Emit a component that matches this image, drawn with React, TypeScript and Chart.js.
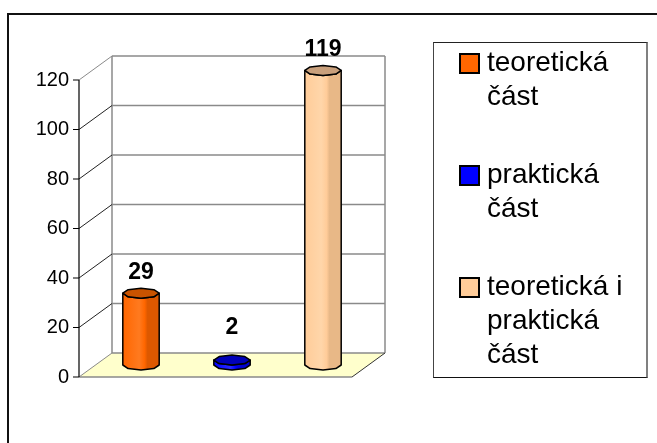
import React, { useEffect, useRef } from "react";
import { Chart, registerables } from "chart.js";

Chart.register(...registerables);

// ---- data ----
const categories = ["teoretická část", "praktická část", "teoretická i praktická část"];
const legendLines = [["teoretická", "část"], ["praktická", "část"], ["teoretická i", "praktická", "část"]];
const values = [29, 2, 119];
const yMin = 0;
const yMax = 120;
const yStep = 20;

// ---- styles ----
const faceColors = ["#FF6600", "#0000FF", "#FFCC99"];
const lightColors = ["#FF7A1F", "#2A2AFF", "#FFD6AA"];
const sideColors = ["#DD5800", "#0000D0", "#E8B887"];
const topColors = ["#C95300", "#0000B8", "#C9A07C"];

const DEPTH_X = 33;
const DEPTH_Y = -24;
const FONT = "Arial, 'Liberation Sans', sans-serif";

function octagon(cx: number, cy: number, rx: number, ry: number) {
  const pts: [number, number][] = [];
  for (let k = 0; k < 8; k++) {
    const a = (k * Math.PI) / 4;
    pts.push([cx + rx * Math.cos(a), cy + ry * Math.sin(a)]);
  }
  return pts;
}

const threeD = {
  id: "threeD",
  beforeDraw(chart: any) {
    const ctx = chart.ctx;
    ctx.save();
    ctx.fillStyle = "#ffffff";
    ctx.fillRect(0, 0, chart.width, chart.height);
    ctx.strokeStyle = "#111";
    ctx.lineWidth = 2;
    ctx.beginPath();
    ctx.moveTo(8, chart.height + 4);
    ctx.lineTo(8, 14);
    ctx.lineTo(chart.width + 4, 14);
    ctx.stroke();
    ctx.restore();
  },
  beforeDatasetsDraw(chart: any) {
    const ctx = chart.ctx;
    const a = chart.chartArea;
    const y = chart.scales.y;
    const L = a.left;
    const R = a.right;
    const y0 = y.getPixelForValue(yMin);
    const yT = y.getPixelForValue(yMax);
    ctx.save();
    // floor
    ctx.beginPath();
    ctx.moveTo(L, y0);
    ctx.lineTo(R, y0);
    ctx.lineTo(R + DEPTH_X, y0 + DEPTH_Y);
    ctx.lineTo(L + DEPTH_X, y0 + DEPTH_Y);
    ctx.closePath();
    ctx.fillStyle = "#FFFFCC";
    ctx.fill();
    // back wall gridlines
    ctx.strokeStyle = "#8a8a8a";
    ctx.lineWidth = 1.5;
    for (let v = yMin; v <= yMax; v += yStep) {
      const py = y.getPixelForValue(v) + DEPTH_Y;
      ctx.beginPath();
      ctx.moveTo(L + DEPTH_X, py);
      ctx.lineTo(R + DEPTH_X, py);
      ctx.stroke();
    }
    ctx.beginPath();
    ctx.moveTo(L + DEPTH_X, yT + DEPTH_Y);
    ctx.lineTo(L + DEPTH_X, y0 + DEPTH_Y);
    ctx.moveTo(R + DEPTH_X, yT + DEPTH_Y);
    ctx.lineTo(R + DEPTH_X, y0 + DEPTH_Y);
    ctx.stroke();
    // floor front edge
    ctx.beginPath();
    ctx.moveTo(L, y0);
    ctx.lineTo(R, y0);
    ctx.stroke();
    // diagonals on side wall
    ctx.lineWidth = 1;
    for (let v = yMin; v <= yMax; v += yStep) {
      const py = y.getPixelForValue(v);
      ctx.strokeStyle = v === yMax || v === yMin ? "#8a8a8a" : "#222";
      ctx.beginPath();
      ctx.moveTo(L, py);
      ctx.lineTo(L + DEPTH_X, py + DEPTH_Y);
      ctx.stroke();
    }
    ctx.strokeStyle = "#333";
    ctx.beginPath();
    ctx.moveTo(R, y0);
    ctx.lineTo(R + DEPTH_X, y0 + DEPTH_Y);
    ctx.stroke();
    // front axis and ticks
    ctx.strokeStyle = "#000";
    ctx.lineWidth = 1.2;
    ctx.beginPath();
    ctx.moveTo(L, yT);
    ctx.lineTo(L, y0);
    for (let v = yMin; v <= yMax; v += yStep) {
      const py = y.getPixelForValue(v);
      ctx.moveTo(L - 6, py);
      ctx.lineTo(L, py);
    }
    ctx.stroke();

    // cylinders
    const meta = chart.getDatasetMeta(0);
    meta.data.forEach((el: any, i: number) => {
      const cx = el.x + DEPTH_X / 2;
      const top = el.y + DEPTH_Y / 2;
      const base = el.base + DEPTH_Y / 2;
      const rx = el.width / 2;
      const ry = 5;
      const tp = octagon(cx, top, rx, ry);
      const bp = octagon(cx, base, rx, ry);
      const g = ctx.createLinearGradient(cx - rx, 0, cx + rx, 0);
      g.addColorStop(0, faceColors[i]);
      g.addColorStop(0.45, lightColors[i]);
      g.addColorStop(0.6, faceColors[i]);
      g.addColorStop(0.68, sideColors[i]);
      g.addColorStop(1, sideColors[i]);
      ctx.beginPath();
      ctx.moveTo(tp[0][0], tp[0][1]);
      ctx.lineTo(bp[0][0], bp[0][1]);
      for (let k = 1; k <= 4; k++) ctx.lineTo(bp[k][0], bp[k][1]);
      ctx.lineTo(tp[4][0], tp[4][1]);
      for (let k = 3; k >= 0; k--) ctx.lineTo(tp[k][0], tp[k][1]);
      ctx.closePath();
      ctx.fillStyle = g;
      ctx.fill();
      ctx.strokeStyle = "#000";
      ctx.lineWidth = 1.5;
      ctx.lineJoin = "round";
      ctx.stroke();
      // top
      ctx.beginPath();
      tp.forEach((p, k) => (k === 0 ? ctx.moveTo(p[0], p[1]) : ctx.lineTo(p[0], p[1])));
      ctx.closePath();
      ctx.fillStyle = topColors[i];
      ctx.fill();
      ctx.stroke();
      // label
      ctx.fillStyle = "#000";
      ctx.font = `bold 23px ${FONT}`;
      ctx.textAlign = "center";
      ctx.textBaseline = "middle";
      ctx.fillText(String(values[i]), cx, Math.min(top - 21, base - 37));
    });
    ctx.restore();
    return false;
  },
};

export default function App() {
  const ref = useRef<HTMLCanvasElement | null>(null);
  useEffect(() => {
    if (!ref.current) return;
    const chart = new Chart(ref.current, {
      type: "bar",
      data: {
        labels: categories,
        datasets: [
          {
            data: values,
            backgroundColor: faceColors,
            barPercentage: 0.4,
            categoryPercentage: 1,
          },
        ],
      },
      options: {
        responsive: false,
        animation: false,
        devicePixelRatio: 1,
        layout: { padding: { left: 0, right: 305, top: 80, bottom: 66 } },
        plugins: { legend: { display: false }, tooltip: { enabled: false } },
        scales: {
          x: { display: false },
          y: {
            min: yMin,
            max: yMax,
            border: { display: false },
            grid: { display: false, drawTicks: false },
            ticks: {
              stepSize: yStep,
              padding: 10,
              color: "#000",
              font: { family: FONT, size: 20 },
            },
            afterFit(scale: any) {
              scale.width = 79;
            },
          },
        },
      },
      plugins: [threeD],
    });
    return () => chart.destroy();
  }, []);

  return (
    <div style={{ position: "fixed", left: 0, top: 0, width: 657, height: 443, background: "#fff" }}>
      <canvas ref={ref} width={657} height={443} style={{ position: "absolute", left: 0, top: 0 }} />
      <div
        style={{
          position: "absolute",
          left: 433,
          top: 42,
          width: 215,
          height: 336,
          borderTop: "1px solid #222",
          borderLeft: "1px solid #444",
          borderBottom: "1px solid #111",
          borderRight: "2px solid #808080",
          fontFamily: FONT,
          fontSize: 28,
          lineHeight: "34px",
          color: "#000",
          display: "flex",
          flexDirection: "column",
          gap: 44,
          paddingTop: 2,
          boxSizing: "border-box",
          overflow: "visible",
        }}
      >
        {legendLines.map((lines, i) => (
          <div key={i} style={{ display: "flex", alignItems: "flex-start" }}>
            <div
              style={{
                width: 21,
                height: 21,
                marginLeft: 25,
                marginTop: 8,
                marginRight: 7,
                background: faceColors[i],
                border: "2px solid #000",
                boxSizing: "border-box",
                flex: "none",
              }}
            />
            <div>
              {lines.map((t, k) => (
                <div key={k} style={{ whiteSpace: "nowrap" }}>{t}</div>
              ))}
            </div>
          </div>
        ))}
      </div>
    </div>
  );
}
